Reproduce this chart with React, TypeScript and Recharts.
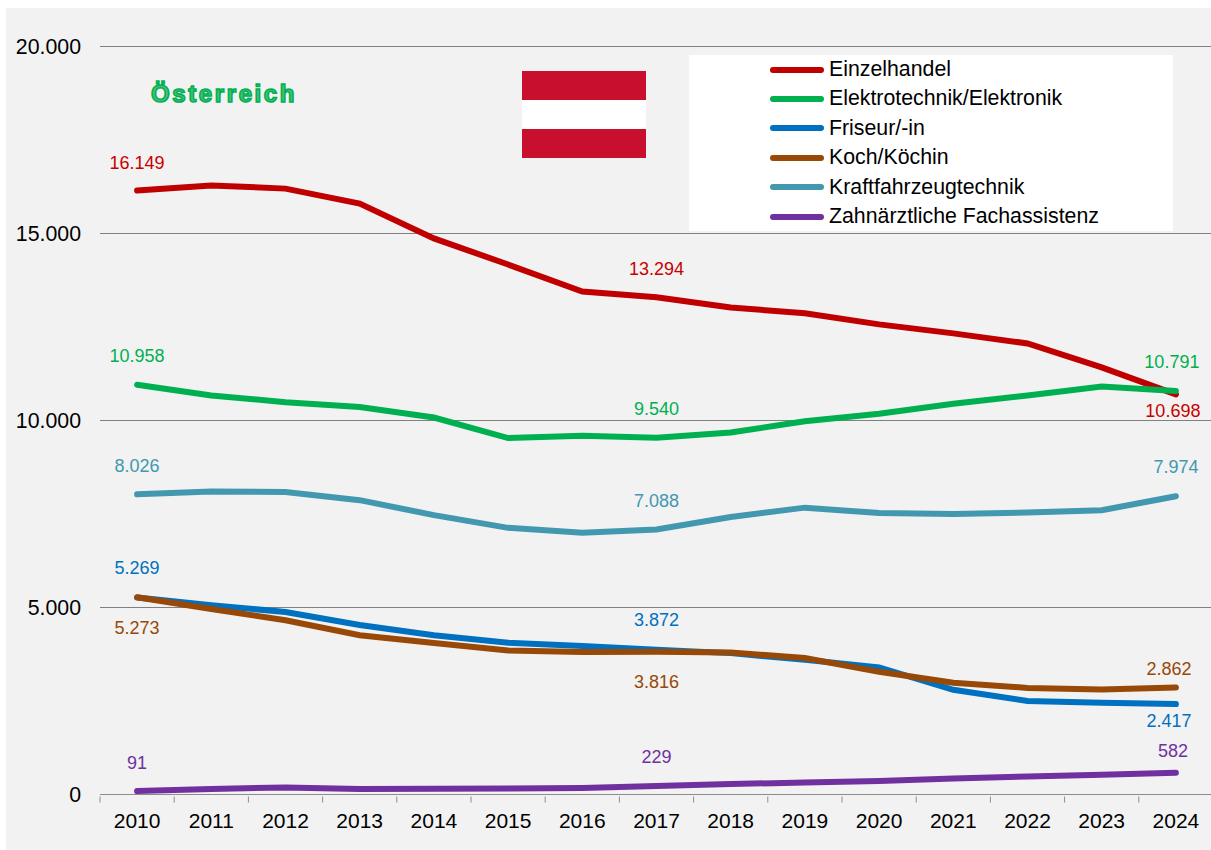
import React from 'react';
import { LineChart, Line, XAxis, YAxis, CartesianGrid, Legend } from 'recharts';

const years = ['2010', '2011', '2012', '2013', '2014', '2015', '2016', '2017', '2018', '2019', '2020', '2021', '2022', '2023', '2024'];
const einzelhandel = [16149, 16285, 16200, 15800, 14870, 14170, 13450, 13294, 13020, 12870, 12570, 12330, 12060, 11420, 10698];
const elektro = [10958, 10670, 10490, 10360, 10080, 9530, 9590, 9540, 9680, 9980, 10180, 10450, 10670, 10910, 10791];
const friseur = [5269, 5060, 4880, 4530, 4260, 4060, 3970, 3872, 3780, 3600, 3400, 2800, 2500, 2450, 2417];
const koch = [5273, 4960, 4660, 4260, 4050, 3850, 3810, 3816, 3800, 3650, 3280, 2990, 2850, 2810, 2862];
const kfz = [8026, 8100, 8090, 7870, 7470, 7130, 7000, 7088, 7420, 7670, 7530, 7500, 7540, 7600, 7974];
const zahn = [91, 150, 190, 150, 155, 160, 175, 229, 280, 320, 360, 425, 480, 530, 582];
const yTicks = [0, 5000, 10000, 15000, 20000];

const data = years.map((year, i) => ({
  year,
  einzelhandel: einzelhandel[i],
  elektro: elektro[i],
  friseur: friseur[i],
  koch: koch[i],
  kfz: kfz[i],
  zahn: zahn[i],
}));

const FONT = '"Liberation Sans", Arial, sans-serif';
const BAND = 74.2;

const fmt = (v: number) => v.toLocaleString('de-DE');

// [dx, dy] of the value labels for 2010, 2017 and 2024
const labelOffsets: Record<string, [number, number][]> = {
  einzelhandel: [[0, -28], [0, -28], [-3, 17]],
  elektro: [[0, -29], [0, -29], [-4, -29]],
  friseur: [[0, -29], [0, -30], [-7, 17]],
  koch: [[0, 31], [0, 30], [-7, -18]],
  kfz: [[0, -28], [0, -28], [0, -29]],
  zahn: [[0, -28], [0, -29], [-3, -22]],
};
const labelled = [0, 7, 14];

const valueLabel = (key: string, color: string) => (props: any) => {
  const n = labelled.indexOf(props.index);
  if (n < 0) return <g key={props.index} />;
  const [dx, dy] = labelOffsets[key][n];
  return (
    <text key={props.index} x={props.x + dx} y={props.y + dy} fill={color} fontSize={18} fontFamily={FONT} textAnchor="middle" dominantBaseline="central">
      {fmt(props.value)}
    </text>
  );
};

const YearTick = (props: any) => {
  const { x, y, payload, index } = props;
  return (
    <g>
      <line x1={x - BAND / 2} x2={x - BAND / 2} y1={y} y2={y + 6} stroke="#8c8c8c" />
      {index === years.length - 1 && <line x1={x + BAND / 2} x2={x + BAND / 2} y1={y} y2={y + 6} stroke="#8c8c8c" />}
      <text x={x} y={y + 24} fill="#000" fontSize={21} fontFamily={FONT} textAnchor="middle" dominantBaseline="central">
        {payload.value}
      </text>
    </g>
  );
};

const LegendBox = (props: any) => (
  <div style={{ position: 'relative', width: 484, height: 176, background: '#fff', fontFamily: FONT, fontSize: 21.3, color: '#000' }}>
    {(props.payload || []).map((item: any, i: number) => (
      <div key={item.value} style={{ position: 'absolute', left: 81, top: 0.5 + i * 29.4, height: 28, display: 'flex', alignItems: 'center', whiteSpace: 'nowrap' }}>
        <span style={{ display: 'inline-block', width: 54, height: 6, borderRadius: 3, background: item.color, marginRight: 5 }} />
        <span>{item.value}</span>
      </div>
    ))}
  </div>
);

const series = [
  { key: 'einzelhandel', name: 'Einzelhandel', color: '#c00000', text: '#c80000' },
  { key: 'elektro', name: 'Elektrotechnik/Elektronik', color: '#00b050', text: '#00b050' },
  { key: 'friseur', name: 'Friseur/-in', color: '#0070c0', text: '#0070c0' },
  { key: 'koch', name: 'Koch/Köchin', color: '#984807', text: '#984807' },
  { key: 'kfz', name: 'Kraftfahrzeugtechnik', color: '#4198af', text: '#4198af' },
  { key: 'zahn', name: 'Zahnärztliche Fachassistenz', color: '#7030a0', text: '#7030a0' },
];

export default function App() {
  return (
    <div style={{ position: 'absolute', left: 0, top: 0, width: 1211, height: 850, overflow: 'hidden', background: '#fff' }}>
      <div style={{ position: 'absolute', left: 6, top: 8, width: 1205, height: 842, background: '#f2f2f2' }} />
      <div style={{ position: 'absolute', left: 0, top: 0 }}>
        <LineChart width={1220} height={850} data={data} margin={{ top: 46.5, right: 7, left: 0, bottom: 0 }}>
          <CartesianGrid vertical={false} stroke="#808080" />
          <XAxis
            dataKey="year"
            stroke="#8c8c8c"
            tickLine={false}
            tickSize={0}
            tick={<YearTick />}
            height={55.5}
            interval={0}
            padding={{ left: BAND / 2, right: BAND / 2 }}
          />
          <YAxis
            width={100}
            domain={[0, 20000]}
            ticks={yTicks}
            tickFormatter={fmt}
            axisLine={false}
            tickLine={false}
            tickMargin={13}
            tick={{ fill: '#000', fontSize: 21.3, fontFamily: FONT }}
          />
          <Legend
            layout="vertical"
            align="center"
            verticalAlign="middle"
            itemSorter={null}
            content={<LegendBox />}
            wrapperStyle={{ position: 'absolute', left: 689, top: 55, width: 484, height: 176 }}
          />
          {series.map((s) => (
            <Line
              key={s.key}
              type="linear"
              dataKey={s.key}
              name={s.name}
              stroke={s.color}
              strokeWidth={6}
              strokeLinecap="round"
              dot={false}
              label={valueLabel(s.key, s.text)}
              isAnimationActive={false}
            />
          ))}
        </LineChart>
      </div>
      {/* Flag */}
      <div style={{ position: 'absolute', left: 522, top: 71, width: 124, height: 87, background: 'linear-gradient(#c8102e 0 29px, #fff 29px 58px, #c8102e 58px)' }} />
      <div
        style={{
          position: 'absolute',
          left: 151,
          top: 78,
          fontFamily: FONT,
          fontWeight: 700,
          fontSize: 24,
          letterSpacing: 2.6,
          lineHeight: '32px',
          color: '#4cc07f',
          WebkitTextStroke: '1.6px #00b050',
        }}
      >
        Österreich
      </div>
    </div>
  );
}
